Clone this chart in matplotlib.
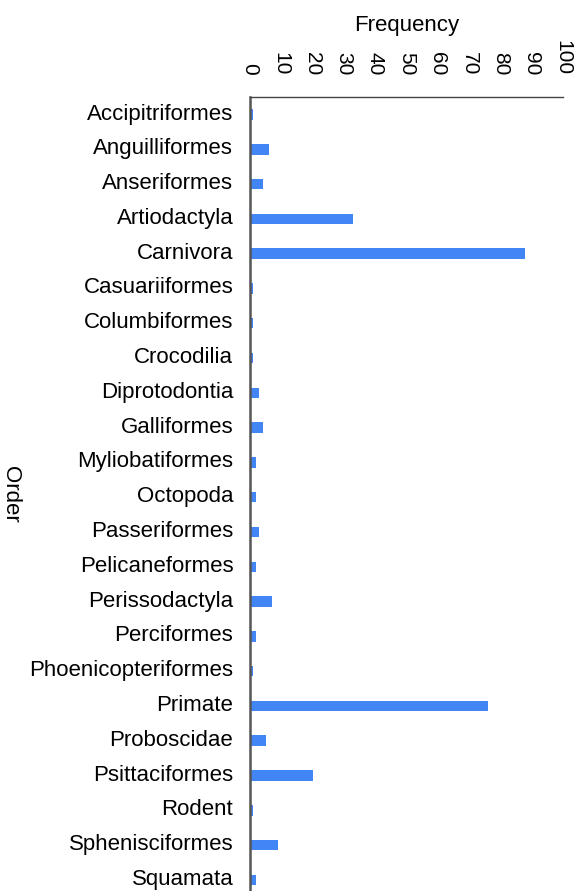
import matplotlib.pyplot as plt
import matplotlib.transforms as mtransforms

plt.rcParams['font.family'] = ['Liberation Sans', 'DejaVu Sans']

# orders and how often each appears
orders = ["Accipitriformes", "Anguilliformes", "Anseriformes", "Artiodactyla",
          "Carnivora", "Casuariiformes", "Columbiformes", "Crocodilia",
          "Diprotodontia", "Galliformes", "Myliobatiformes", "Octopoda",
          "Passeriformes", "Pelicaneformes", "Perissodactyla", "Perciformes",
          "Phoenicopteriformes", "Primate", "Proboscidae", "Psittaciformes",
          "Rodent", "Sphenisciformes", "Squamata"]
freq = [1, 6, 4, 33, 88, 1, 1, 1, 3, 4, 2, 2, 3, 2, 7, 2, 1, 76, 5, 20, 1, 9, 2]
xticks = [0, 10, 20, 30, 40, 50, 60, 70, 80, 90, 100]

fig = plt.figure(figsize=(5.86, 8.91), dpi=100)
ax = fig.add_axes([0.4266, 0.0, 0.9608 - 0.4266, 0.891])

ypos = list(range(len(orders)))
ax.barh(ypos, freq, height=0.3, color='#4285f4')

ax.set_xlim(0, 100)
ax.set_ylim(22.32, -0.5)
ax.set_yticks(ypos)
ax.set_yticklabels(orders, fontsize=16)
ax.set_xticks(xticks)

# x axis lives on top, labels turned sideways
ax.xaxis.set_ticks_position('top')
ax.xaxis.set_label_position('top')
ax.set_xticklabels([str(t) for t in xticks], rotation=-90, fontsize=15)
ax.tick_params(axis='x', length=0, pad=16)
ax.tick_params(axis='y', length=0, pad=12)

# nudge the order names up a touch so the last one fits
shift = mtransforms.ScaledTranslation(0, 3 / 100, fig.dpi_scale_trans)
for lab in ax.get_yticklabels():
    lab.set_transform(lab.get_transform() + shift)

ax.set_xlabel("Frequency", fontsize=16, labelpad=6)
ax.set_ylabel("Order", fontsize=16, rotation=-90)
ax.yaxis.set_label_coords(-0.80, 0.5)

for s in ['right', 'bottom']:
    ax.spines[s].set_visible(False)
ax.spines['left'].set_color('#555555')
ax.spines['left'].set_linewidth(1.8)
ax.spines['top'].set_color('#444444')
ax.spines['top'].set_linewidth(1.0)

fig.savefig("out.png", dpi=100)
